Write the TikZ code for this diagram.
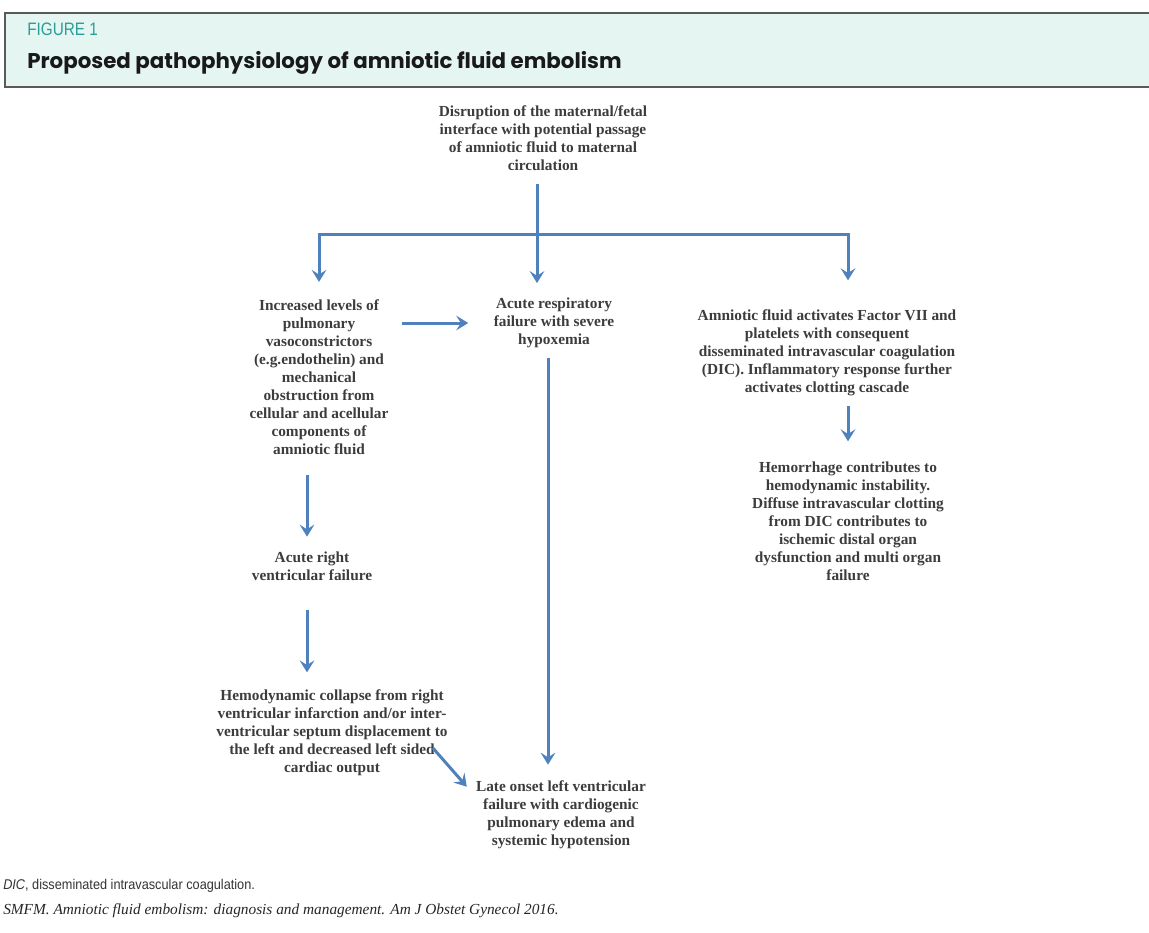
\documentclass[tikz,border=0pt]{standalone}
\usepackage{fontspec}
\setmainfont{Liberation Serif}
\newfontfamily\figfont[FakeStretch=0.85]{Liberation Sans}
\newfontfamily\notefont[FakeStretch=0.9]{Liberation Sans}
\newfontfamily\titlefont{Poppins}
\usetikzlibrary{calc}
\usetikzlibrary{arrows.meta}

\definecolor{hdrfill}{RGB}{229,245,242}
\definecolor{hdrline}{RGB}{90,90,90}
\definecolor{figteal}{RGB}{40,158,148}
\definecolor{textgray}{RGB}{60,60,60}
\definecolor{arrowblue}{RGB}{79,129,189}

\tikzset{
    txt/.style={font=\bfseries\fontsize{11.5}{13.5}\selectfont, text=textgray, align=center, inner sep=0pt},
    arr/.style={draw=arrowblue, line width=2.25pt, -{Stealth[length=9pt, width=11pt, inset=3.5pt]}}
}

\begin{document}
\begin{tikzpicture}[x=0.75pt,y=-0.75pt]
    \useasboundingbox (0,0) rectangle (1149,932);

    % Header
    \fill[hdrfill] (5,13) rectangle (1149,87);
    \draw[hdrline, line width=1.5pt] (1149,13) -- (5,13) -- (5,87) -- (1149,87);
    \node[anchor=base west, inner sep=0pt, text=figteal, font=\figfont\fontsize{13.5}{16}\selectfont] (fig) at (27,35) {FIGURE 1};
    \node[anchor=base west, inner sep=0pt, text=black!90, font=\titlefont\bfseries\fontsize{16}{19}\selectfont] (title) at (27,68) {Proposed pathophysiology of amniotic fluid embolism};

    % Boxes
    \node[txt] (disrupt) at (543,138) {Disruption of the maternal/fetal\\ interface with potential passage\\ of amniotic fluid to maternal\\ circulation};
    \coordinate (split) at (537,234);
    \node[txt] (incr) at (319,377) {Increased levels of\\ pulmonary\\ vasoconstrictors\\ (e.g.endothelin) and\\ mechanical\\ obstruction from\\ cellular and acellular\\ components of\\ amniotic fluid};
    \node[txt] (resp) at (554,323) {Acute respiratory\\ failure with severe\\ hypoxemia};
    \node[txt] (amnio) at (827,353) {Amniotic fluid activates Factor VII and\\ platelets with consequent\\ disseminated intravascular coagulation\\ (DIC). Inflammatory response further\\ activates clotting cascade};
    \node[txt] (hemorr) at (848,521) {Hemorrhage contributes to\\ hemodynamic instability.\\ Diffuse intravascular clotting\\ from DIC contributes to\\ ischemic distal organ\\ dysfunction and multi organ\\ failure};
    \node[txt] (rvf) at (312,566) {Acute right\\ ventricular failure};
    \node[txt] (hemo) at (332,733) {Hemodynamic collapse from right\\ ventricular infarction and/or inter-\\ ventricular septum displacement to\\ the left and decreased left sided\\ cardiac output};
    \node[txt] (late) at (561,815) {Late onset left ventricular\\ failure with cardiogenic\\ pulmonary edema and\\ systemic hypotension};

    % Arrows
    \draw[arr, shorten <=10pt, shorten >=11pt] (disrupt.south -| split) -- (split |- resp.north);
    \draw[arr, shorten >=13pt] (split) -| (incr.north);
    \draw[arr, shorten >=22pt] (split) -| (hemorr.north |- amnio.north);
    \draw[arr, shorten <=10pt, shorten >=19pt] (incr.east |- resp) -- (resp.west);
    \draw[arr, shorten <=7pt, shorten >=12pt] ([xshift=-4.5pt]resp.south) -- ([xshift=-4.5pt]resp.south |- late.north);
    \draw[arr, shorten <=15pt, shorten >=11pt] ([xshift=-9pt]incr.south) -- ([xshift=-9pt]incr.south |- rvf.north);
    \draw[arr, shorten <=22pt, shorten >=13pt] ([xshift=-3.75pt]rvf.south) -- ([xshift=-3.75pt]rvf.south |- hemo.north);
    \draw[arr] ($(hemo.east)+(-15,15)$) -- ($(late.north west)+(-9,6)$);
    \draw[arr, shorten <=7pt, shorten >=15pt] (amnio.south -| hemorr) -- (hemorr.north);

    % Footnotes
    \node[anchor=base west, inner sep=0pt, text=black!80, font=\notefont\fontsize{10.6}{12}\selectfont] (note) at (3,889) {\textit{DIC}, disseminated intravascular coagulation.};
    \node[anchor=base west, inner sep=0pt, text=black!85, font=\itshape\fontsize{11.5}{13}\selectfont] (src) at (3,914) {SMFM. Amniotic fluid embolism: diagnosis and management. Am J Obstet Gynecol 2016.};
\end{tikzpicture}
\end{document}
